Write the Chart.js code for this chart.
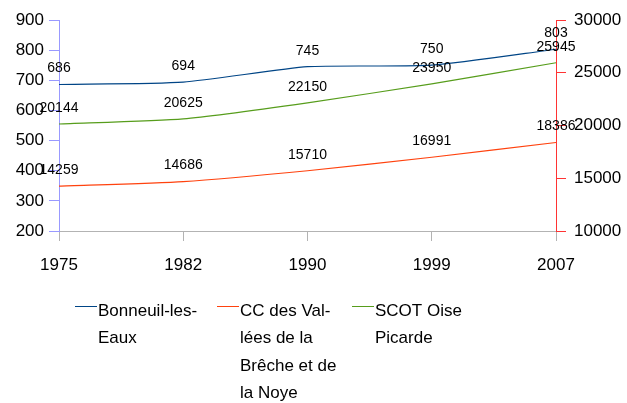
<!DOCTYPE html>
<html>
<head>
<meta charset="utf-8">
<script src="https://cdn.jsdelivr.net/npm/chart.js@4"></script>
<style>
  html, body { margin: 0; padding: 0; background: #fff; }
  #wrap { width: 627px; height: 403px; }
</style>
</head>
<body>
<div id="wrap"><canvas id="popChart" width="627" height="403"></canvas></div>
<script>
const years = ['1975', '1982', '1990', '1999', '2007'];
const bonneuil = [686, 694, 745, 750, 803];
const ccValleesBreche = [14259, 14686, 15710, 16991, 18386];
const scotOise = [20144, 20625, 22150, 23950, 25945];
const leftTicks = [200, 900, 100];
const rightTicks = [10000, 30000, 5000];

const FONT = '"Liberation Sans", Arial, sans-serif';

// value labels above each point
const valueLabels = {
    id: 'valueLabels',
    afterDatasetsDraw(chart) {
        const ctx = chart.ctx;
        ctx.save();
        ctx.font = '14px ' + FONT;
        ctx.fillStyle = '#000';
        ctx.textAlign = 'center';
        ctx.textBaseline = 'middle';
        chart.data.datasets.forEach((ds, i) => {
            chart.getDatasetMeta(i).data.forEach((pt, j) => {
                ctx.fillText(String(ds.data[j]), pt.x, pt.y - 16);
            });
        });
        ctx.restore();
    }
};

// legend with wrapped names, drawn under the axis
const wrappedLegend = {
    id: 'wrappedLegend',
    afterDraw(chart) {
        const ctx = chart.ctx;
        const starts = [75, 217, 352];
        ctx.save();
        ctx.font = '17px ' + FONT;
        ctx.textBaseline = 'middle';
        chart.data.datasets.forEach((ds, i) => {
            const x = starts[i];
            ctx.strokeStyle = ds.borderColor;
            ctx.lineWidth = 1;
            ctx.beginPath();
            ctx.moveTo(x, 306.5);
            ctx.lineTo(x + 22, 306.5);
            ctx.stroke();
            ctx.fillStyle = '#000';
            ds.legendLines.forEach((t, k) => {
                ctx.fillText(t, x + 23, 311 + k * 27.5);
            });
        });
        ctx.restore();
    }
};

const popChart = new Chart(document.getElementById('popChart').getContext('2d'), {
    type: 'line',
    data: {
        labels: years,
        datasets: [{
            label: 'Bonneuil-les-Eaux',
            legendLines: ['Bonneuil-les-', 'Eaux'],
            data: bonneuil,
            borderColor: '#004586',
            yAxisID: 'yLeft'
        }, {
            label: 'CC des Vallées de la Brêche et de la Noye',
            legendLines: ['CC des Val-', 'lées de la', 'Brêche et de', 'la Noye'],
            data: ccValleesBreche,
            borderColor: '#ff420e',
            yAxisID: 'yRight'
        }, {
            label: 'SCOT Oise Picarde',
            legendLines: ['SCOT Oise', 'Picarde'],
            data: scotOise,
            borderColor: '#579d1c',
            yAxisID: 'yRight'
        }]
    },
    options: {
        responsive: false,
        animation: false,
        elements: {
            line: { borderWidth: 1.2, tension: 0.2, fill: false },
            point: { radius: 0 }
        },
        layout: { padding: { top: 20, bottom: 122, left: 0, right: 0 } },
        plugins: {
            legend: { display: false },
            tooltip: { enabled: false }
        },
        scales: {
            x: {
                offset: false,
                grid: { drawOnChartArea: false, color: '#b3b3b3', tickLength: 10 },
                border: { color: '#b3b3b3' },
                ticks: { color: '#000', font: { family: FONT, size: 17 }, padding: 14, maxRotation: 0 },
                afterFit(s) { s.height = 50; }
            },
            yLeft: {
                position: 'left',
                min: leftTicks[0],
                max: leftTicks[1],
                grid: { drawOnChartArea: false, color: '#9999ff', tickLength: 10 },
                border: { color: '#9999ff' },
                ticks: { stepSize: leftTicks[2], color: '#000', font: { family: FONT, size: 17 }, padding: 5,
                         callback: v => String(v) },
                afterFit(s) { s.width = 59; }
            },
            yRight: {
                position: 'right',
                min: rightTicks[0],
                max: rightTicks[1],
                grid: { drawOnChartArea: false, color: '#ff3333', tickLength: 10 },
                border: { color: '#ff3333' },
                ticks: { stepSize: rightTicks[2], color: '#000', font: { family: FONT, size: 17 }, padding: 8,
                         callback: v => String(v) },
                afterFit(s) { s.width = 71; }
            }
        }
    },
    plugins: [valueLabels, wrappedLegend]
});
</script>
</body>
</html>
